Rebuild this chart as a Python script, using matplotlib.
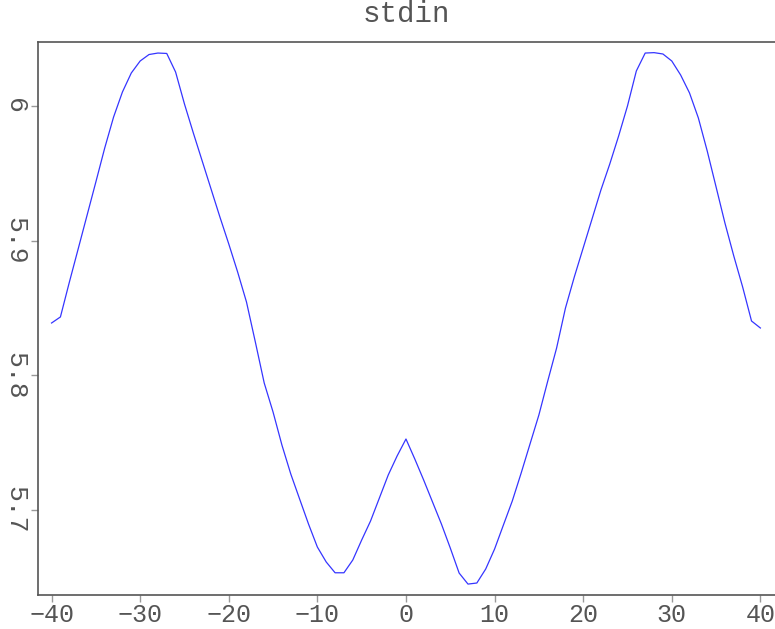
import numpy as np
import matplotlib
matplotlib.use("Agg")
import matplotlib.pyplot as plt

x_vals = list(range(-40, 41))
y_vals = [
    5.8389, 5.8434, 5.8690, 5.8938, 5.9187, 5.9436, 5.9688, 5.9918, 6.0104, 6.0245,
    6.0334, 6.0382, 6.0393, 6.0390,
    6.0252, 6.0015, 5.9800, 5.9592, 5.9384, 5.9176, 5.8976, 5.8768, 5.8545,
    5.8248, 5.7944, 5.7728, 5.7483, 5.7268, 5.7082, 5.6897, 5.6726, 5.6615, 5.6535,
    5.6535, 5.6630,
    5.6778, 5.6919, 5.7090, 5.7261, 5.7402, 5.7528, 5.7379, 5.7223, 5.7060, 5.6897,
    5.6719, 5.6533, 5.6451, 5.6459,
    5.6563, 5.6711, 5.6890, 5.7068, 5.7275, 5.7491, 5.7706, 5.7958, 5.8203, 5.8500,
    5.8731, 5.8946, 5.9161, 5.9376, 5.9569, 5.9777, 6.0000, 6.0260, 6.0393, 6.0396,
    6.0386, 6.0334, 6.0230, 6.0097, 5.9911, 5.9666, 5.9399, 5.9131, 5.8886, 5.8656,
    5.8404, 5.8352,
]
x_ticks = [-40, -30, -20, -10, 0, 10, 20, 30, 40]
y_ticks = [5.7, 5.8, 5.9, 6.0]
y_tick_labels = ["5.7", "5.8", "5.9", "6"]

plt.rcParams["font.family"] = ["Liberation Mono", "DejaVu Sans Mono"]

fig = plt.figure(figsize=(7.75, 6.29), dpi=100)
ax = fig.add_axes([38 / 775, 1 - 595 / 629, 1 - 38 / 775, (595 - 42) / 629])

ax.plot(x_vals, y_vals, color="#3535ff", linewidth=0.9)

ax.set_xlim(-41.53, 41.65)
ax.set_ylim(5.637, 6.0475)

ax.set_xticks(x_ticks)
ax.set_xticklabels(["\u2212" + str(-t) if t < 0 else str(t) for t in x_ticks])
ax.set_yticks(y_ticks)
ax.set_yticklabels(y_tick_labels, rotation=-90, va="center")

gray = "#555555"
for s in ["left", "bottom", "top"]:
    ax.spines[s].set_color(gray)
    ax.spines[s].set_linewidth(1.2)
ax.spines["right"].set_visible(False)

ax.tick_params(axis="both", direction="out", length=5, width=1, color="#999999",
               labelsize=18, labelcolor="#555555")
ax.tick_params(axis="x", pad=0.5)
ax.tick_params(axis="y", pad=3, labelsize=19)

fig.suptitle("stdin", x=406 / 775, y=1.0, va="top", fontsize=21, color="#555555")

fig.savefig("out.png", dpi=100)
